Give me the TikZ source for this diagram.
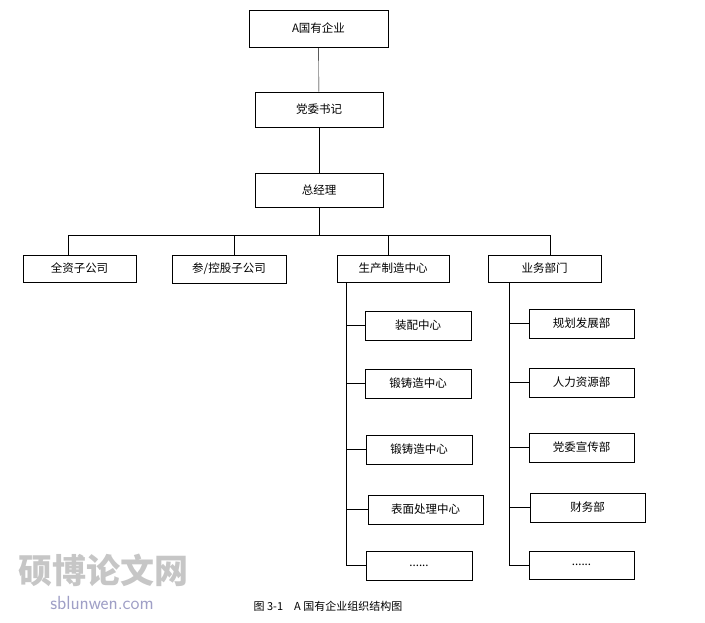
\documentclass[tikz,border=0pt]{standalone}
\usepackage{fontspec}
\newfontfamily\cjk{Noto Sans CJK SC}
\usetikzlibrary{shadows}
\tikzset{>=latex}
\tikzset{orgbox/.style={draw=black,fill=white,line width=0.7pt,inner sep=0pt,
  drop shadow={shadow xshift=1pt,shadow yshift=-1pt,fill=black,opacity=1},
  font=\cjk\fontsize{11.5}{13}\selectfont}}

\begin{document}
\begin{tikzpicture}[x=1pt,y=-1pt]
\useasboundingbox (0,0) rectangle (705,622);
\node[orgbox,minimum width=139pt,minimum height=37pt] (top) at (318.5,28.5) {A国有企业};
\node[orgbox,minimum width=128pt,minimum height=35pt] (dw) at (319,109.5) {党委书记};
\node[orgbox,minimum width=128pt,minimum height=34pt] (zjl) at (319,190) {总经理};
\node[orgbox,minimum width=113pt,minimum height=27pt] (qz) at (79.5,268.5) {全资子公司};
\node[orgbox,minimum width=114pt,minimum height=28pt] (ck) at (229,269) {参/控股子公司};
\node[orgbox,minimum width=112pt,minimum height=27pt] (sc) at (393,268.5) {生产制造中心};
\node[orgbox,minimum width=113pt,minimum height=27pt] (yw) at (544.5,268.5) {业务部门};
\node[orgbox,minimum width=106pt,minimum height=29pt] (sc1) at (418,325.5) {装配中心};
\node[orgbox,minimum width=106pt,minimum height=29pt] (sc2) at (418,383.5) {锻铸造中心};
\node[orgbox,minimum width=106pt,minimum height=29pt] (sc3) at (419,449.5) {锻铸造中心};
\node[orgbox,minimum width=115pt,minimum height=29pt] (sc4) at (425.5,509.5) {表面处理中心};
\node[orgbox,minimum width=106pt,minimum height=29pt] (sc5) at (419,565.5) {......};
\node[orgbox,minimum width=105pt,minimum height=29pt] (yw1) at (581.5,323.5) {规划发展部};
\node[orgbox,minimum width=105pt,minimum height=29pt] (yw2) at (581.5,382.5) {人力资源部};
\node[orgbox,minimum width=105pt,minimum height=29pt] (yw3) at (581.5,447.5) {党委宣传部};
\node[orgbox,minimum width=115pt,minimum height=29pt] (yw4) at (587.5,507.5) {财务部};
\node[orgbox,minimum width=105pt,minimum height=28pt] (yw5) at (581.5,565) {......};
% connectors
\draw (top) -- (dw);
\draw (dw) -- (zjl);
\coordinate (bus) at (319,235);
\draw (zjl) -- (bus);
\draw (68,235) -- (550,235);
\draw (68,235) -- (68,255);
\draw (234,235) -- (234,255);
\draw (388,235) -- (388,255);
\draw (550,235) -- (550,255);
\draw (346,282) -- (346,566);
\foreach \n in {sc1,sc2,sc3,sc4,sc5} \draw (346,0 |- \n.west) -- (\n.west);
\draw (509,282) -- (509,566);
\foreach \n in {yw1,yw2,yw3,yw4,yw5} \draw (509,0 |- \n.west) -- (\n.west);
% caption and mark
\node[font=\cjk\fontsize{11}{13}\selectfont] (cap) at (328,606) {图 3-1\quad A 国有企业组织结构图};
\node[font=\cjk\bfseries\fontsize{34}{36}\selectfont,text=gray!45] (wm) at (104,570) {硕博论文网};
\node[font=\sffamily\fontsize{19}{21}\selectfont,text=blue!25!gray!60] (url) at (102,603) {sblunwen.com};
\end{tikzpicture}
\end{document}
